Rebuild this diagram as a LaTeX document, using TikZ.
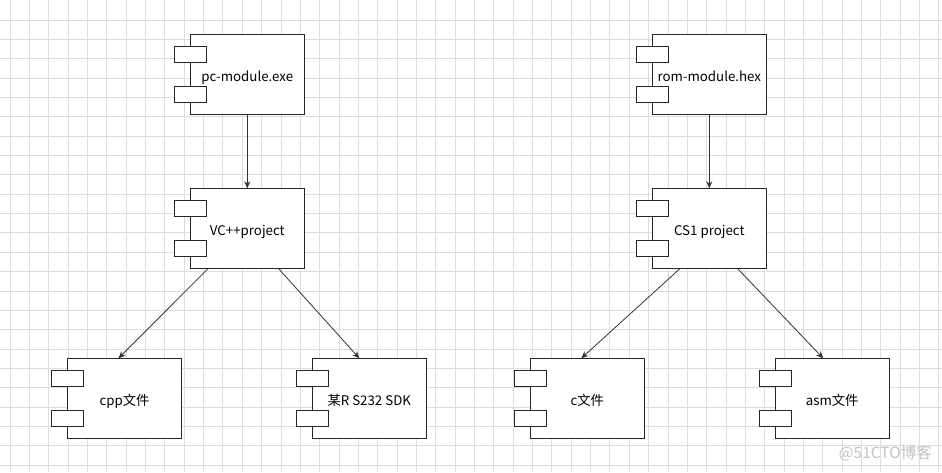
\documentclass[tikz,border=0pt]{standalone}
\usepackage{fontspec}
\setmainfont{Noto Sans CJK SC}
\usetikzlibrary{arrows.meta}
\definecolor{gridc}{HTML}{DEDEDE}
\definecolor{linec}{HTML}{333333}
\definecolor{wmark}{HTML}{C4C4C4}
\tikzset{
  comp/.style={draw=black!85, line width=1pt, fill=white, minimum width=114pt, minimum height=80pt, inner sep=0pt, outer sep=0pt, text height=16pt, text depth=2pt, font=\fontsize{13.3}{16}\selectfont},
  tab/.style={draw=black!85, line width=1pt, fill=white},
  gridline/.style={draw=gridc, line width=0.8pt},
  conn/.style={draw=linec, line width=0.8pt, -{Stealth[length=7pt,width=6pt]}},
}
\begin{document}
\begin{tikzpicture}[x=1pt,y=-1pt]
\fill[white] (0,0) rectangle (942,472);
\useasboundingbox (0,0) rectangle (942,472);
\foreach \i in {0,...,48} \draw[gridline] (10+19.35*\i,0) -- (10+19.35*\i,472);
\foreach \j in {0,...,23} \draw[gridline] (0,20+19.35*\j) -- (942,20+19.35*\j);

\node[comp] (pc)  at (247.3,74.2)  {pc-module.exe};
\node[comp] (vc)  at (247.3,228.3) {VC++project};
\node[comp] (cpp) at (124.5,398.3) {cpp文件};
\node[comp] (sdk) at (369.3,398.3) {某R S232 SDK};
\node[comp] (rom) at (709.3,74.2)  {rom-module.hex};
\node[comp] (cs)  at (709.3,228.3) {CS1 project};
\node[comp] (cf)  at (587.3,398.3) {c文件};
\node[comp] (asm) at (832.2,398.3) {asm文件};

\foreach \n in {pc,vc,cpp,sdk,rom,cs,cf,asm}{
  \draw[tab] ([xshift=-16pt,yshift=-12.3pt]\n.north west) rectangle ([xshift=16pt,yshift=-28pt]\n.north west);
  \draw[tab] ([xshift=-16pt,yshift=-52pt]\n.north west) rectangle ([xshift=16pt,yshift=-68pt]\n.north west);
}

\draw[conn] (pc.south) -- (vc.north);
\draw[conn] ([xshift=-39pt]vc.south) -- ([xshift=-6pt]cpp.north);
\draw[conn] ([xshift=31pt]vc.south) -- ([xshift=-10pt]sdk.north);
\draw[conn] (rom.south) -- (cs.north);
\draw[conn] ([xshift=-29pt]cs.south) -- ([xshift=-6pt]cf.north);
\draw[conn] ([xshift=28pt]cs.south) -- ([xshift=-9pt]asm.north);

\node[text=wmark, font=\fontsize{15.5}{18}\selectfont, anchor=east, inner sep=0pt] (wm) at (932,453) {@51CTO博客};
\end{tikzpicture}
\end{document}
